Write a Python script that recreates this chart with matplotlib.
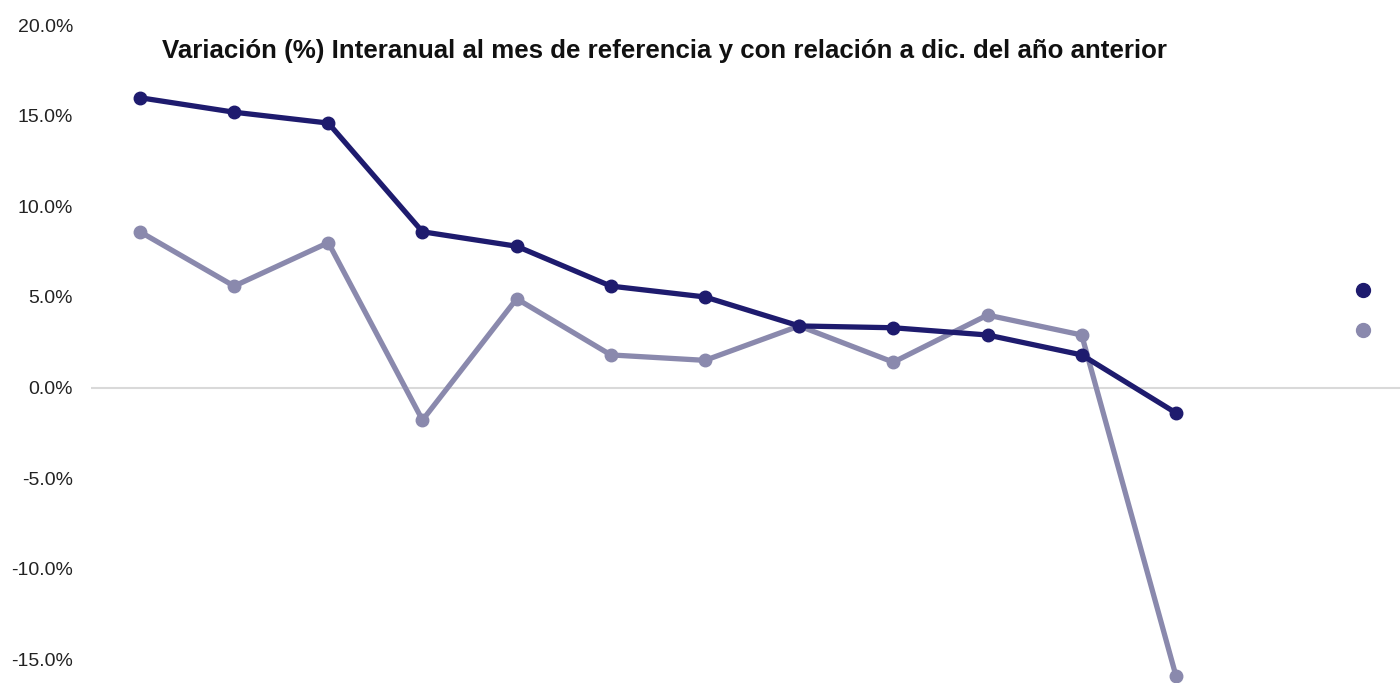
import matplotlib
matplotlib.use("Agg")
import matplotlib.pyplot as plt
from matplotlib.lines import Line2D
from matplotlib.ticker import PercentFormatter

# Datos (% variación)
periodos = list(range(12))
interanual = [16.0, 15.2, 14.6, 8.6, 7.8, 5.6, 5.0, 3.4, 3.3, 2.9, 1.8, -1.4]
vs_dic = [8.6, 5.6, 8.0, -1.8, 4.9, 1.8, 1.5, 3.4, 1.4, 4.0, 2.9, -15.9]
y_ticks = [-15, -10, -5, 0, 5, 10, 15, 20]

color_1 = "#1e1b6e"
color_2 = "#8a89ad"

plt.rcParams['font.family'] = ['Liberation Sans', 'DejaVu Sans']
plt.rcParams['axes.unicode_minus'] = False

fig = plt.figure(figsize=(14, 6.83), dpi=100)
ax = fig.add_axes([0.065, 0.003, 0.935, 0.96])

ax.plot(periodos, interanual, color=color_1, lw=3.8, marker='o', ms=9, clip_on=False, zorder=3)
ax.plot(periodos, vs_dic, color=color_2, lw=3.8, marker='o', ms=9, clip_on=False, zorder=2)

ax.axhline(0, color="#d9d9d9", lw=1.5, zorder=1)

ax.set_xlim(-0.52, 13.38)
ax.set_ylim(-16.2, 20)
ax.set_yticks(y_ticks)
ax.yaxis.set_major_formatter(PercentFormatter(decimals=1))
ax.tick_params(axis='y', length=0, pad=13, labelsize=14, labelcolor="#222222")
ax.set_xticks([])
for s in ax.spines.values():
    s.set_visible(False)

fig.text(0.475, 0.925, "Variación (%) Interanual al mes de referencia y con relación a dic. del año anterior",
         ha='center', va='center', fontsize=18.6, fontweight='bold', color="#111111")

# leyenda (solo marcadores)
handles = [Line2D([], [], color=color_1, marker='o', ms=10, ls='none'),
           Line2D([], [], color=color_2, marker='o', ms=10, ls='none')]
fig.legend(handles, ['', ''], loc='center', bbox_to_anchor=(1363 / 1400, 1 - 312 / 683),
           frameon=False, handlelength=0.5, handletextpad=0, labelspacing=1.2, fontsize=14,
           borderpad=0)

fig.savefig("out.png", dpi=100)
